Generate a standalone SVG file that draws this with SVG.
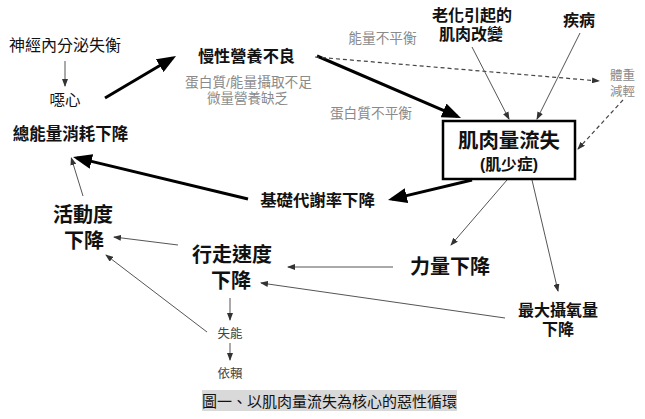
<svg xmlns="http://www.w3.org/2000/svg" width="645" height="419" viewBox="0 0 645 419">
<defs>
<style>
text{font-family:"Liberation Sans","Noto Sans CJK TC",sans-serif;text-anchor:middle;fill:#111}
.b{font-weight:bold}
.g{fill:#8a8a8a}
.thick{stroke:#000;stroke-width:3;fill:none;marker-end:url(#ah)}
.thin{stroke:#555;stroke-width:1;fill:none;marker-end:url(#at)}
.dash{stroke:#444;stroke-width:1.2;stroke-dasharray:4 3;fill:none;marker-end:url(#at)}
</style>
<marker id="ah" viewBox="0 0 19 15" refX="15" refY="7.5" markerWidth="19" markerHeight="15" markerUnits="userSpaceOnUse" orient="auto"><path d="M0,0 L19,7.5 L0,15 z" fill="#000"/></marker>
<marker id="at" viewBox="0 0 8 6" refX="7" refY="3" markerWidth="8" markerHeight="6" markerUnits="userSpaceOnUse" orient="auto"><path d="M0,0 L8,3 L0,6 z" fill="#333"/></marker>
</defs>
<rect width="645" height="419" fill="#fff"/>
<g id="connectors">
<line class="thin" x1="65" y1="61" x2="65" y2="86"/>
<line class="thick" x1="105" y1="98" x2="172.6" y2="58"/>
<line class="thick" x1="317" y1="56" x2="457.3" y2="116.4"/>
<line class="dash" x1="315" y1="57" x2="599" y2="81"/>
<line class="dash" x1="623" y1="100" x2="578" y2="149"/>
<line class="thin" x1="472" y1="47" x2="509" y2="119"/>
<line class="thin" x1="580" y1="33" x2="537" y2="119"/>
<line class="thick" x1="472" y1="180" x2="391.9" y2="199.1"/>
<line class="thick" x1="248" y1="199" x2="76.9" y2="157.9"/>
<line class="thin" x1="83" y1="196" x2="71.3" y2="158"/>
<line class="thin" x1="507" y1="180" x2="451" y2="245"/>
<line class="thin" x1="532" y1="180" x2="558" y2="291"/>
<line class="thin" x1="393" y1="267" x2="288" y2="267"/>
<line class="thin" x1="505" y1="318" x2="261" y2="283"/>
<line class="thin" x1="178" y1="245" x2="114" y2="237"/>
<line class="thin" x1="207" y1="332" x2="106" y2="255"/>
<line class="thin" x1="230" y1="298" x2="230" y2="320"/>
<line class="thin" x1="230" y1="343" x2="230" y2="360"/>
</g>
<g id="n-neuro"><text x="65" y="51" font-size="16">神經內分泌失衡</text></g>
<g id="n-nausea"><text x="65" y="106" font-size="15.5">噁心</text></g>
<g id="n-energy"><text class="b" x="70.5" y="140" font-size="16.5">總能量消耗下降</text></g>
<g id="n-malnut">
<text class="b" x="246.5" y="62" font-size="16.2">慢性營養不良</text>
<text class="g" x="248.5" y="87" font-size="13.7">蛋白質/能量攝取不足</text>
<text class="g" x="247.5" y="102.5" font-size="13.5">微量營養缺乏</text>
</g>
<g id="l-energy-imb"><text class="g" x="382.5" y="43" font-size="13.7">能量不平衡</text></g>
<g id="l-protein-imb"><text class="g" x="371" y="118" font-size="13.7">蛋白質不平衡</text></g>
<g id="n-aging">
<text class="b" x="472" y="21" font-size="16">老化引起的</text>
<text class="b" x="471" y="39.5" font-size="16">肌肉改變</text>
</g>
<g id="n-disease"><text class="b" x="579" y="26" font-size="16">疾病</text></g>
<g id="n-weight">
<text class="g" x="622.5" y="80" font-size="12.5">體重</text>
<text class="g" x="622.5" y="96" font-size="12.5">減輕</text>
</g>
<g id="n-sarcopenia">
<rect x="443" y="121" width="132" height="58" fill="#fff" stroke="#000" stroke-width="2.5"/>
<text class="b" x="509" y="148" font-size="20.4">肌肉量流失</text>
<text class="b" x="509" y="169.5" font-size="15.8">(肌少症)</text>
</g>
<g id="n-bmr"><text class="b" x="317.5" y="206" font-size="16.4">基礎代謝率下降</text></g>
<g id="n-strength"><text class="b" x="450" y="274" font-size="20">力量下降</text></g>
<g id="n-vo2">
<text class="b" x="558" y="316" font-size="16">最大攝氧量</text>
<text class="b" x="558" y="334.5" font-size="16">下降</text>
</g>
<g id="n-gait">
<text class="b" x="232" y="262" font-size="20">行走速度</text>
<text class="b" x="231" y="288" font-size="20">下降</text>
</g>
<g id="n-activity">
<text class="b" x="83" y="222" font-size="20">活動度</text>
<text class="b" x="84" y="247.5" font-size="20">下降</text>
</g>
<g id="n-disability"><text x="230" y="337.5" font-size="12.5" style="fill:#444">失能</text></g>
<g id="n-dependence"><text x="230" y="377.5" font-size="12.5" style="fill:#444">依賴</text></g>
<g id="caption">
<rect x="202" y="390" width="255" height="21" fill="#d9d9d9"/>
<text x="329.5" y="406.5" font-size="15">圖一、以肌肉量流失為核心的惡性循環</text>
</g>
</svg>
